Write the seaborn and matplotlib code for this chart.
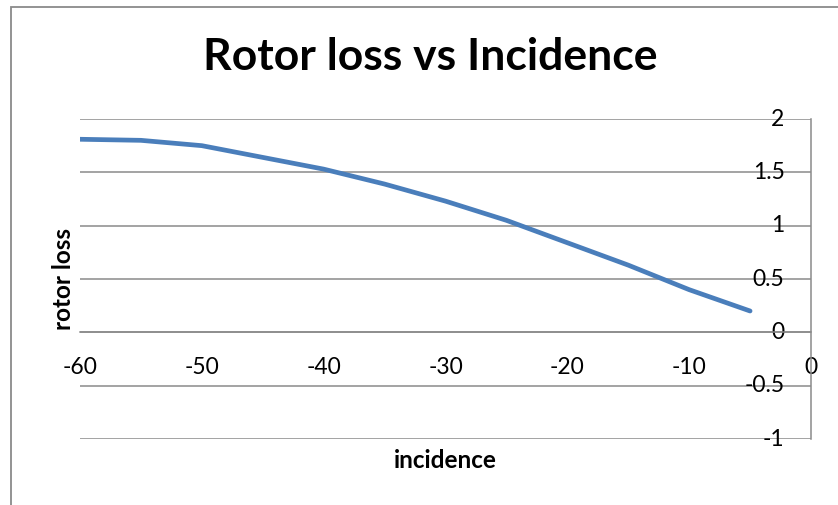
import matplotlib
matplotlib.use("Agg")
import matplotlib.pyplot as plt
from matplotlib.patches import Rectangle
import seaborn as sns
import pandas as pd

# values
incidence = [-60, -55, -50, -45, -40, -35, -30, -25, -20, -15, -10, -5]
rotor_loss = [1.81, 1.80, 1.75, 1.64, 1.53, 1.39, 1.23, 1.05, 0.84, 0.63, 0.40, 0.20]

x_ticks = [-60, -50, -40, -30, -20, -10, 0]
y_ticks = [-1, -0.5, 0, 0.5, 1, 1.5, 2]

df = pd.DataFrame({"incidence": incidence, "rotor loss": rotor_loss})

sns.set_theme(style="white")
plt.rcParams["font.family"] = ["Lato", "DejaVu Sans"]
plt.rcParams["text.color"] = "black"

grid_col = "#8a8a8a"

fig = plt.figure(figsize=(8.38, 5.05), dpi=100)
ax = fig.add_axes([80 / 838, 1 - 439 / 505, 731 / 838, 320 / 505])

sns.lineplot(data=df, x="incidence", y="rotor loss", ax=ax,
             color="#4a7ebb", linewidth=3.4, solid_capstyle="round")

ax.set_xlim(-60, 0)
ax.set_ylim(-1, 2)
ax.set_xticks(x_ticks)
ax.set_yticks(y_ticks)
ax.set_xticklabels([str(v) for v in x_ticks])
ax.set_yticklabels(["-1", "-0.5", "0", "0.5", "1", "1.5", "2"])

ax.grid(axis="y", color=grid_col, linewidth=1.1)
ax.grid(axis="x", visible=False)

# axes cross at zero like the spreadsheet chart
ax.spines["bottom"].set_position(("data", 0))
ax.spines["left"].set_position(("data", 0))
for s in ["top", "right"]:
    ax.spines[s].set_visible(False)
for s in ["bottom", "left"]:
    ax.spines[s].set_color(grid_col)
    ax.spines[s].set_linewidth(1.1)

ax.tick_params(axis="x", length=0, pad=18, labelsize=16.5, colors="black")
ax.tick_params(axis="y", length=0, pad=19, labelsize=16.5, colors="black")
for lab in ax.get_yticklabels():
    lab.set_verticalalignment("center")

ax.set_xlabel("")
ax.set_ylabel("")
fig.text(445 / 838, 1 - 461 / 505, "incidence", ha="center", va="center",
         fontsize=17.5, fontweight="bold", color="black")
fig.text(63 / 838, 1 - 279 / 505, "rotor loss", ha="center", va="center",
         rotation=90, fontsize=17.5, fontweight="bold", color="black")
fig.text(430 / 838, 1 - 57 / 505, "Rotor loss vs Incidence", ha="center",
         va="center", fontsize=32, fontweight="bold", color="black")

# chart frame (only top and left edges fall inside the image)
fig.add_artist(Rectangle((10.5 / 838, -0.1), 1.2, 1.1 - 6.5 / 505,
                         transform=fig.transFigure, fill=False,
                         edgecolor="#8a8a8a", linewidth=1.3))

fig.savefig("out.png", dpi=100)
